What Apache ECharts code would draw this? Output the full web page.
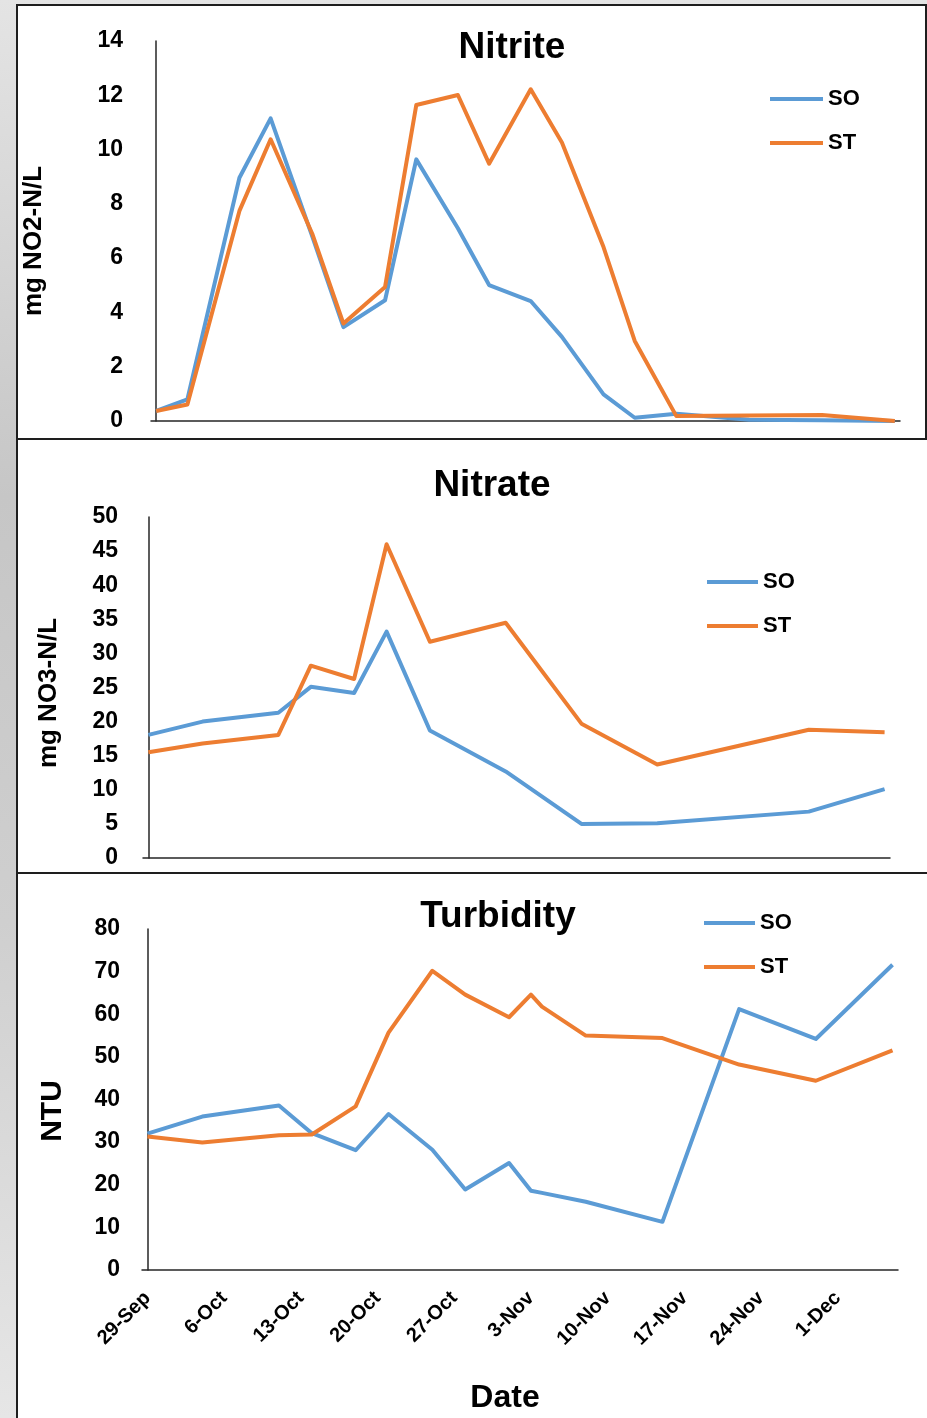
<!DOCTYPE html>
<html><head><meta charset="utf-8">
<script src="https://cdn.jsdelivr.net/npm/echarts@6/dist/echarts.min.js"></script>
<style>
html,body{margin:0;padding:0;}
body{width:927px;height:1418px;overflow:hidden;position:relative;
 background:linear-gradient(to bottom,#e4e4e4 0%,#c6c6c6 35%,#cfcfcf 65%,#e6e6e6 100%);}
.panel{position:absolute;background:#fff;border:2px solid #1e1e1e;box-sizing:border-box;}
#c{position:absolute;left:0;top:0;width:927px;height:1418px;}
</style>
</head><body>
<div class="panel" style="left:16px;top:4px;width:911px;height:436px;border-right-width:2px"></div>
<div class="panel" style="left:16px;top:438px;width:920px;height:436px;"></div>
<div class="panel" style="left:16px;top:872px;width:920px;height:560px;"></div>
<div id="c"></div>
<script>
// ---------- data ----------
const seriesNames = ['SO', 'ST'];
const startDate = '2015-09-29';

const nitriteDates = ['2015-09-29','2015-10-02','2015-10-07','2015-10-10','2015-10-14','2015-10-17','2015-10-21','2015-10-24','2015-10-28','2015-10-31','2015-11-04','2015-11-07','2015-11-11','2015-11-14','2015-11-18','2015-11-25','2015-12-02','2015-12-09'];
const nitriteSO = [0.37, 0.8, 8.96, 11.15, 6.8, 3.46, 4.45, 9.64, 7.1, 5.01, 4.42, 3.1, 0.98, 0.12, 0.27, 0.05, 0.03, 0.0];
const nitriteST = [0.37, 0.61, 7.74, 10.38, 6.9, 3.59, 4.94, 11.64, 12.01, 9.48, 12.22, 10.26, 6.41, 2.95, 0.18, 0.2, 0.22, 0.0];

const nitrateDates = ['2015-09-29','2015-10-04','2015-10-11','2015-10-14','2015-10-18','2015-10-21','2015-10-25','2015-11-01','2015-11-08','2015-11-15','2015-11-29','2015-12-06'];
const nitrateSO = [18.05, 20.0, 21.3, 25.1, 24.2, 33.2, 18.7, 12.7, 5.0, 5.1, 6.8, 10.1];
const nitrateST = [15.5, 16.8, 18.05, 28.2, 26.25, 46.0, 31.7, 34.5, 19.7, 13.7, 18.8, 18.45];

const turbidityDates = ['2015-09-29','2015-10-04','2015-10-11','2015-10-14','2015-10-18','2015-10-21','2015-10-25','2015-10-28','2015-11-01','2015-11-03','2015-11-04','2015-11-08','2015-11-15','2015-11-22','2015-11-29','2015-12-06'];
const turbiditySO = [32.0, 36.0, 38.6, 32.1, 28.1, 36.6, 28.2, 18.9, 25.1, 18.6, 18.1, 16.0, 11.3, 61.2, 54.2, 71.6];
const turbidityST = [31.3, 29.9, 31.6, 31.8, 38.4, 55.7, 70.2, 64.6, 59.3, 64.6, 61.8, 55.0, 54.4, 48.2, 44.4, 51.5];

const tickDates = ['2015-09-29','2015-10-06','2015-10-13','2015-10-20','2015-10-27','2015-11-03','2015-11-10','2015-11-17','2015-11-24','2015-12-01'];
const tickLabels = ['29-Sep','6-Oct','13-Oct','20-Oct','27-Oct','3-Nov','10-Nov','17-Nov','24-Nov','1-Dec'];

const titles = ['Nitrite', 'Nitrate', 'Turbidity'];
const yNames = ['mg NO2-N/L', 'mg NO3-N/L', 'NTU'];
const xName = 'Date';

// ---------- helpers ----------
const DAY = 86400000;
const dayOf = d => Math.round((Date.parse(d) - Date.parse(startDate)) / DAY);
const pairs = (dates, vals) => dates.map((d, i) => [dayOf(d), vals[i]]);
const tickDays = tickDates.map(dayOf);

const BLUE = '#5B9BD5', ORANGE = '#ED7D31';
const FONT = "'Liberation Sans', Arial, sans-serif";

const panels = [
  {dates: nitriteDates, so: nitriteSO, st: nitriteST, yMax: 14, yInt: 2,
   grid: {left: 151, right: 27, top: 41, height: 380}, labMargin: 28,
   legend: {left: 770, top: 88, w: 53}},
  {dates: nitrateDates, so: nitrateSO, st: nitrateST, yMax: 50, yInt: 5,
   grid: {left: 143, right: 37, top: 517, height: 341}, labMargin: 25,
   legend: {left: 707, top: 571, w: 51}},
  {dates: turbidityDates, so: turbiditySO, st: turbidityST, yMax: 80, yInt: 10,
   grid: {left: 142, right: 29, top: 929, height: 341}, labMargin: 22,
   legend: {left: 704, top: 912, w: 51}}
];

const option = {
  backgroundColor: 'transparent',
  animation: false,
  grid: [], xAxis: [], yAxis: [], series: [], legend: [],
  graphic: {elements: []}
};

panels.forEach((p, i) => {
  const days = p.dates.map(dayOf);
  const xmin = days[0] - 0.5, xmax = days[days.length - 1] + 0.5;
  option.grid.push(Object.assign({containLabel: false}, p.grid));
  const isLast = i === panels.length - 1;
  option.xAxis.push({
    type: 'value', gridIndex: i, min: xmin, max: xmax,
    axisLine: {show: true, onZero: false, lineStyle: {color: '#262626', width: 1.5}},
    axisTick: {show: false},
    splitLine: {show: false},
    axisLabel: isLast ? {
      show: true, customValues: tickDays, rotate: 45, margin: 25,
      fontFamily: FONT, fontSize: 20, fontWeight: 'bold', color: '#000',
      formatter: v => { const k = tickDays.indexOf(Math.round(v)); return k >= 0 ? tickLabels[k] : ''; }
    } : {show: false}
  });
  option.yAxis.push({
    type: 'value', gridIndex: i, min: 0, max: p.yMax, interval: p.yInt,
    axisLine: {show: true, lineStyle: {color: '#262626', width: 1.5}},
    axisTick: {show: false},
    splitLine: {show: false},
    axisLabel: {margin: p.labMargin, fontFamily: FONT, fontSize: 23, fontWeight: 'bold', color: '#000'}
  });
  [[seriesNames[0], p.so, BLUE], [seriesNames[1], p.st, ORANGE]].forEach(([name, vals, col]) => {
    option.series.push({
      type: 'line', name, xAxisIndex: i, yAxisIndex: i,
      data: pairs(p.dates, vals), symbol: 'none', showSymbol: false,
      lineStyle: {color: col, width: 4, join: 'round'}, itemStyle: {color: col},
      z: name === 'SO' ? 2 : 3
    });
  });
  option.legend.push({
    data: seriesNames, orient: 'vertical', left: p.legend.left, top: p.legend.top,
    padding: 0,
    icon: 'rect', itemWidth: p.legend.w, itemHeight: 4, itemGap: 22,
    textStyle: {fontFamily: FONT, fontSize: 22, fontWeight: 'bold', color: '#000', lineHeight: 22},
    selectedMode: false
  });
});

// titles and axis names
const titlePos = [[512, 48], [492, 486], [498, 917]];
const yNamePos = [[34, 241], [49, 693], [53, 1111]];
titles.forEach((t, i) => {
  option.graphic.elements.push({type: 'text', x: titlePos[i][0], y: titlePos[i][1], z: 100,
    style: {text: t, font: "bold 37px " + FONT, fill: '#000', align: 'center', verticalAlign: 'middle'}});
  option.graphic.elements.push({type: 'text', x: yNamePos[i][0], y: yNamePos[i][1], rotation: Math.PI / 2, z: 100,
    style: {text: yNames[i], font: (i === 2 ? "bold 30px " : "bold 26px ") + FONT, fill: '#000', align: 'center', verticalAlign: 'middle'}});
});
option.graphic.elements.push({type: 'text', x: 505, y: 1398, z: 100,
  style: {text: xName, font: "bold 32px " + FONT, fill: '#000', align: 'center', verticalAlign: 'middle'}});

const chart = echarts.init(document.getElementById('c'), null, {renderer: 'canvas'});
chart.setOption(option);
</script>
</body></html>
